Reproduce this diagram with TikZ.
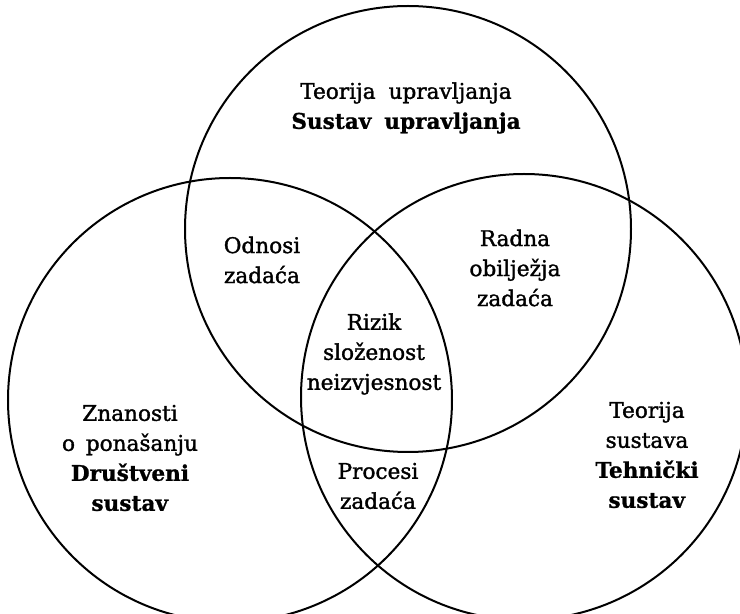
\documentclass[tikz,border=0pt]{standalone}
\usepackage{fontspec}
\setmainfont{DejaVu Serif}[UprightFeatures={FakeBold=1.5}, BoldFeatures={FakeBold=1}]
\begin{document}
\begin{tikzpicture}[x=0.5pt,y=0.5pt]
\tikzset{
  ring/.style={circle, draw=black, line width=1pt, inner sep=0pt},
  lbl/.style={align=center, inner sep=0pt, font=\fontsize{10.8}{15}\selectfont}
}
\useasboundingbox (0,0) rectangle (740,-614);
\begin{scope}
\clip (0,0) rectangle (740,-614);
\node[ring, minimum size=223pt] (topc) at (408,-229) {};
\node[ring, minimum size=222pt] (leftc) at (230,-400) {};
\node[ring, minimum size=223pt] (rightc) at (524,-397) {};
\end{scope}
\node[lbl] (upr) at (406,-108) {Teorija\hspace{0.6em}upravljanja\\\textbf{Sustav\hspace{0.6em}upravljanja}};
\node[lbl] (odn) at (262,-260) {Odnosi\\zadaća};
\node[lbl] (rad) at (515,-268) {Radna\\obilježja\\zadaća};
\node[lbl] (riz) at (374,-354) {Rizik\\složenost\\neizvjesnost};
\node[lbl] (znan) at (130,-458) {Znanosti\\o\hspace{0.5em}ponašanju\\\textbf{Društveni}\\\textbf{sustav}};
\node[lbl] (proc) at (378,-486) {Procesi\\zadaća};
\node[lbl] (teh) at (647,-455) {Teorija\\sustava\\\textbf{Tehnički}\\\textbf{sustav}};
\end{tikzpicture}
\end{document}
